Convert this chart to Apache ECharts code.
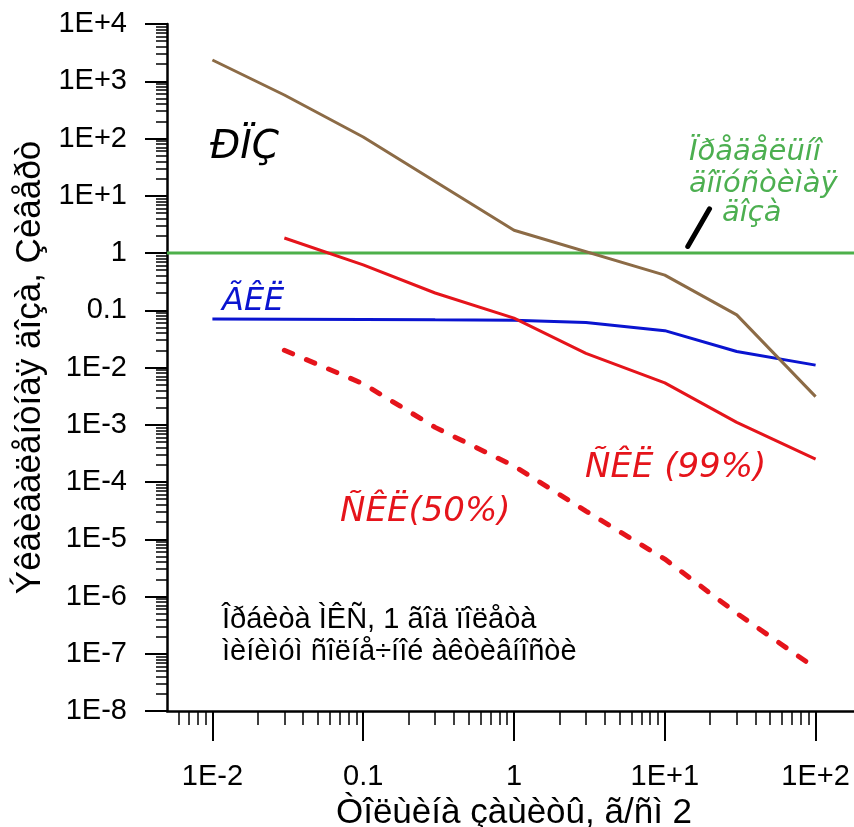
<!DOCTYPE html>
<html><head><meta charset="utf-8">
<script src="https://cdn.jsdelivr.net/npm/echarts@6/dist/echarts.min.js"></script>
<style>html,body{margin:0;padding:0;background:#fff}#c{width:854px;height:827px}</style>
</head><body><div id="c"></div>
<script>
// ---- axis ticks ----
const xMajorTicks = [0.01, 0.1, 1, 10, 100];
const xTickLabels = ['1E-2', '0.1', '1', '1E+1', '1E+2'];
const yMajorTicks = [1e-8, 1e-7, 1e-6, 1e-5, 1e-4, 1e-3, 1e-2, 0.1, 1, 10, 100, 1000, 10000];
const yTickLabels = ['1E-8', '1E-7', '1E-6', '1E-5', '1E-4', '1E-3', '1E-2', '0.1', '1', '1E+1', '1E+2', '1E+3', '1E+4'];
const xMin = 0.005, xMax = 200, yMin = 1e-8, yMax = 1e4;

// ---- series data (thickness g/cm2 -> dose Sv) ----
const rpzX = [0.01, 0.03, 0.1, 1, 10, 30, 100];
const rpzY = [2350, 575, 106, 2.5, 0.41, 0.083, 0.0031];
const gclX = [0.01, 0.1, 0.3, 1, 3, 10, 30, 100];
const gclY = [0.07, 0.069, 0.068, 0.067, 0.061, 0.044, 0.019, 0.011];
const skl99X = [0.03, 0.1, 0.3, 1, 3, 10, 30, 100];
const skl99Y = [1.83, 0.62, 0.2, 0.073, 0.0177, 0.0054, 0.0011, 0.00025];
const skl50X = [0.03, 0.1, 0.3, 1, 3, 10, 30, 100];
const skl50Y = [0.02, 0.0052, 0.0009, 0.00019, 3.1e-5, 4.5e-6, 5.1e-7, 5.6e-8];
const limitX = [0.005, 200];
const limitY = [1, 1];
const pointerX = [14.2, 19.8];
const pointerY = [1.3, 5.9];

const L = Math.log10;
const pts = (xs, ys) => xs.map((x, i) => [L(x), L(ys[i])]);
function minorValues(lo, hi) {
  const out = [];
  for (let k = -9; k <= 4; k++) for (let m = 2; m <= 9; m++) {
    const v = L(m) + k;
    if (v > L(lo) + 1e-9 && v < L(hi) - 1e-9) out.push(v);
  }
  return out;
}
function fmt(ticks, labels) {
  return v => { const i = ticks.findIndex(t => Math.abs(L(t) - v) < 1e-6); return i >= 0 ? labels[i] : ''; };
}
const AX = 'Liberation Sans';
const IT = 'DejaVu Sans';
const gridBox = { left: 167, top: 24, width: 694, height: 687, containLabel: false, outerBoundsMode: 'none' };

const chart = echarts.init(document.getElementById('c'), null, { renderer: 'canvas' });
const lineS = (name, data, color, extra) => Object.assign({
  name, type: 'line', data, symbol: 'none', showSymbol: false, silent: true,
  xAxisIndex: 0, yAxisIndex: 0, lineStyle: { color, width: 3 }, z: 3
}, extra || {});

chart.setOption({
  animation: false,
  backgroundColor: '#fff',
  grid: [Object.assign({}, gridBox), Object.assign({}, gridBox)],
  xAxis: [{
    type: 'value', gridIndex: 0, min: L(xMin), max: L(xMax),
    axisLine: { show: true, onZero: false, lineStyle: { color: '#000', width: 2.5 } },
    axisTick: { show: true, customValues: xMajorTicks.map(L), length: 30, lineStyle: { color: '#000', width: 2 } },
    axisLabel: { customValues: xMajorTicks.map(L), formatter: fmt(xMajorTicks, xTickLabels), margin: 51,
      fontFamily: AX, fontSize: 29, color: '#000' },
    splitLine: { show: false },
    name: 'Òîëùèíà çàùèòû, ã/ñì 2', nameLocation: 'middle', nameGap: 74,
    nameTextStyle: { fontFamily: AX, fontSize: 35, color: '#000' }
  }, {
    type: 'value', gridIndex: 1, min: L(xMin), max: L(xMax),
    axisLine: { show: false, onZero: false },
    axisTick: { show: true, customValues: minorValues(xMin, xMax), length: 14, lineStyle: { color: '#000', width: 1.5 } },
    axisLabel: { show: false }, splitLine: { show: false }
  }],
  yAxis: [{
    type: 'value', gridIndex: 0, min: L(yMin), max: L(yMax),
    axisLine: { show: true, onZero: false, lineStyle: { color: '#000', width: 2.5 } },
    axisTick: { show: true, customValues: yMajorTicks.map(L), length: 22, lineStyle: { color: '#000', width: 2 } },
    axisLabel: { customValues: yMajorTicks.map(L), formatter: fmt(yMajorTicks, yTickLabels), margin: 40,
      fontFamily: AX, fontSize: 29, color: '#000' },
    splitLine: { show: false },
    name: 'Ýêâèâàëåíòíàÿ äîçà, Çèâåðò', nameLocation: 'middle', nameGap: 113,
    nameTextStyle: { fontFamily: AX, fontSize: 35, color: '#000' }
  }, {
    type: 'value', gridIndex: 1, min: L(yMin), max: L(yMax),
    axisLine: { show: false, onZero: false },
    axisTick: { show: true, customValues: minorValues(yMin, yMax), length: 11, lineStyle: { color: '#000', width: 1.5 } },
    axisLabel: { show: false }, splitLine: { show: false }
  }],
  series: [
    lineS('Ïðåäåëüíî äîïóñòèìàÿ äîçà', pts(limitX, limitY), '#4db04a', { z: 2 }),
    lineS('ÃÊË', pts(gclX, gclY), '#0a14d0'),
    lineS('ÐÏÇ', pts(rpzX, rpzY), '#8c6b46'),
    lineS('ÑÊË (99%)', pts(skl99X, skl99Y), '#e5141b'),
    lineS('ÑÊË (50%)', pts(skl50X, skl50Y), '#e5141b', { lineStyle: { color: '#e5141b', width: 5, type: [9, 15], cap: 'round' } }),
    lineS('pointer', pts(pointerX, pointerY), '#000', { lineStyle: { color: '#000', width: 5, cap: 'round' } })
  ],
  graphic: [
    { type: 'text', x: 210, y: 148, style: { text: 'ÐÏÇ', font: 'italic 39px "' + IT + '"', fill: '#000', textVerticalAlign: 'middle' } },
    { type: 'text', x: 222, y: 302, style: { text: 'ÃÊË', font: 'italic 32px "' + IT + '"', fill: '#0a14d0', textVerticalAlign: 'middle' } },
    { type: 'text', x: 689, y: 152, style: { text: 'Ïðåäåëüíî', font: 'italic 29px "' + IT + '"', fill: '#4caf50', textVerticalAlign: 'middle' } },
    { type: 'text', x: 689, y: 184, style: { text: 'äîïóñòèìàÿ', font: 'italic 29px "' + IT + '"', fill: '#4caf50', textVerticalAlign: 'middle' } },
    { type: 'text', x: 722, y: 213, style: { text: 'äîçà', font: 'italic 29px "' + IT + '"', fill: '#4caf50', textVerticalAlign: 'middle' } },
    { type: 'text', x: 585, y: 468, style: { text: 'ÑÊË (99%)', font: 'italic 34px "' + IT + '"', fill: '#e5141b', textVerticalAlign: 'middle' } },
    { type: 'text', x: 340, y: 512, style: { text: 'ÑÊË(50%)', font: 'italic 34px "' + IT + '"', fill: '#e5141b', textVerticalAlign: 'middle' } },
    { type: 'text', x: 222, y: 620, style: { text: 'Îðáèòà ÌÊÑ, 1 ãîä ïîëåòà', font: '29px "' + AX + '"', fill: '#000', textVerticalAlign: 'middle' } },
    { type: 'text', x: 222, y: 652, style: { text: 'ìèíèìóì ñîëíå÷íîé àêòèâíîñòè', font: '29px "' + AX + '"', fill: '#000', textVerticalAlign: 'middle' } }
  ]
});
</script></body></html>
